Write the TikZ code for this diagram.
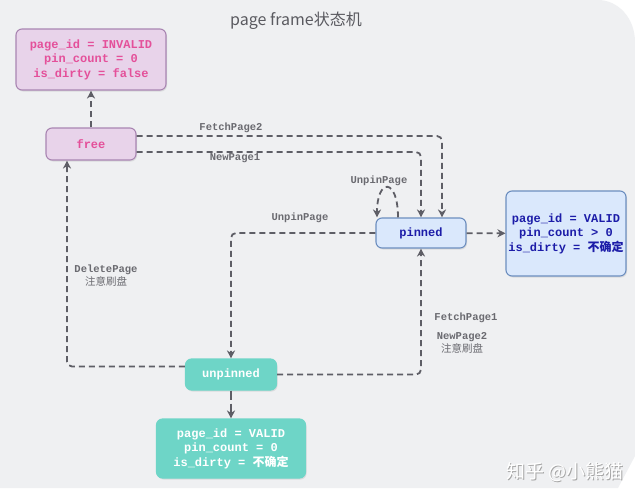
\documentclass[tikz,border=0pt]{standalone}
\usepackage{fontspec}
\setmainfont{Liberation Sans}
\setmonofont{Liberation Mono}
\newfontfamily\cjk{Noto Sans CJK SC}
\usetikzlibrary{arrows.meta,shadows}

% colours taken from the diagram
\definecolor{bgc}{HTML}{EFF0F2}
\definecolor{arrowc}{HTML}{5E5E66}
\definecolor{labc}{HTML}{6A6A70}
\definecolor{titlec}{HTML}{5A5A60}
\definecolor{pinkfill}{HTML}{E8D3EA}
\definecolor{pinkline}{HTML}{A985B2}
\definecolor{pinktext}{HTML}{E4509A}
\definecolor{bluefill}{HTML}{DAE8FC}
\definecolor{blueline}{HTML}{6C8EBF}
\definecolor{bluetext}{HTML}{1C1CA8}
\definecolor{tealfill}{HTML}{6ED5C7}

\begin{document}
\begin{tikzpicture}[x=1pt,y=-1pt,
    >={Stealth[length=8pt,width=8pt,inset=2.5pt]},
    flow/.style={draw=arrowc,line width=1.8pt,dash pattern=on 6pt off 4pt,rounded corners=5pt,->},
    box/.style={rounded corners=6pt,line width=1.1pt,align=center,inner sep=0pt,
        font=\ttfamily\bfseries\fontsize{12}{14.5}\selectfont,
        drop shadow={shadow xshift=1pt,shadow yshift=-1.5pt,opacity=0.18}},
    pinkbox/.style={box,fill=pinkfill,draw=pinkline,text=pinktext},
    bluebox/.style={box,fill=bluefill,draw=blueline,text=bluetext},
    tealbox/.style={box,fill=tealfill,draw=tealfill,text=white},
    lab/.style={text=labc,align=center,inner sep=0pt,font=\ttfamily\bfseries\fontsize{10.5}{13}\selectfont}]

    % page and background
    \useasboundingbox (0,0) rectangle (635,488);
    \fill[white] (0,0) rectangle (635,488);
    \fill[bgc] (0,0) -- (598,0) .. controls (618,0) and (635,18) .. (635,42) -- (635,456) -- (618,488) -- (0,488) -- cycle;

    % title
    \node[text=titlec,font=\cjk\fontsize{16}{19}\selectfont] (title) at (296,21) {page frame状态机};

    % states
    \node[pinkbox,minimum width=150pt,minimum height=61pt] (invalid) at (91,59.5) {page\_id = INVALID\\pin\_count = 0\\is\_dirty = false};
    \node[pinkbox,minimum width=90pt,minimum height=32pt] (free) at (91,144) {free};
    \node[bluebox,minimum width=90pt,minimum height=30pt] (pinned) at (421,233) {pinned};
    \node[bluebox,minimum width=120pt,minimum height=85pt] (validp) at (566,233.5) {page\_id = VALID\\pin\_count > 0\\is\_dirty = {\cjk 不确定}};
    \node[tealbox,minimum width=91pt,minimum height=31pt] (unpinned) at (231,374.5) {unpinned};
    \node[tealbox,minimum width=149pt,minimum height=59pt] (validz) at (231,448.5) {page\_id = VALID\\pin\_count = 0\\is\_dirty = {\cjk 不确定}};

    % transitions
    \draw[flow] (free) -- (invalid);
    \draw[flow] ([yshift=8pt]free.east) -| ([xshift=21pt]pinned.north);        %FetchPage2
    \draw[flow] ([yshift=-8pt]free.east) -| (pinned.north);                    %NewPage1
    \draw[flow] ([xshift=-23pt]pinned.north) .. controls +(0,-40) and +(0,-40) .. ([xshift=-44pt]pinned.north);
    \draw[flow] (pinned) -- (validp);
    \draw[flow] (pinned.west) -| (unpinned.north);
    \draw[flow,dash pattern=on 9pt off 4pt] (unpinned) -- (validz);
    \draw[flow] ([yshift=8pt]unpinned.west) -| ([xshift=-24pt]free.south);     %DeletePage
    \draw[flow] (unpinned.east) -| (pinned.south);                             %FetchPage1, NewPage2

    % labels
    \node[lab] (fetchtwo) at (231,128) {FetchPage2};
    \node[lab] (newone) at (235,158) {NewPage1};
    \node[lab] (unpinself) at (379,181) {UnpinPage};
    \node[lab] (unpin) at (300,218) {UnpinPage};
    \node[lab] (delete) at (106,276) {DeletePage\\{\cjk\mdseries 注意刷盘}};
    \node[lab] (fetchone) at (466,318) {FetchPage1};
    \node[lab] (newtwo) at (462,343) {NewPage2\\{\cjk\mdseries 注意刷盘}};

    % watermark
    \node[text=black!35,font=\cjk\fontsize{19}{22}\selectfont] (marks) at (565.8,473.2) {知乎 @小熊猫};
    \node[text=white,font=\cjk\fontsize{19}{22}\selectfont] (mark) at (565,472) {知乎 @小熊猫};
\end{tikzpicture}
\end{document}
